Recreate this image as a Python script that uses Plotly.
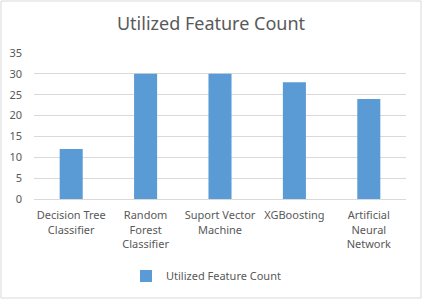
import plotly.graph_objects as go

categories = ["Decision Tree<br>Classifier", "Random<br>Forest<br>Classifier",
              "Suport Vector<br>Machine", "XGBoosting", "Artificial<br>Neural<br>Network"]
values = [12, 30, 30, 28, 24]
series_name = "Utilized Feature Count"
y_ticks = [0, 5, 10, 15, 20, 25, 30, 35]

W, H = 422, 299
ml, mr, mt, mb = 34, 16, 53, 100
pw, ph = W - ml - mr, H - mt - mb

fig = go.Figure()
fig.add_trace(go.Bar(x=categories, y=values, name=series_name,
                     marker=dict(color="#5B9BD5", line=dict(width=0))))

fig.update_layout(
    width=W, height=H,
    margin=dict(l=ml, r=mr, t=mt, b=mb, autoexpand=False),
    paper_bgcolor="white", plot_bgcolor="white",
    font=dict(family="Noto Sans, Open Sans, sans-serif", size=11, color="#595959"),
    title=dict(text="Utilized Feature Count", x=0.5, xanchor="center",
               y=1 - 24 / H, yanchor="middle",
               font=dict(size=18, color="#595959")),
    bargap=0.69,
    showlegend=True,
    legend=dict(orientation="h", x=0.5 - 14 / pw, xanchor="center", y=-(276 - 199) / ph,
                yanchor="middle", font=dict(size=11, color="#595959")),
    xaxis=dict(showgrid=False, showline=True, linecolor="#d9d9d9", ticks="",
               automargin=False, ticklabelstandoff=6,
               tickfont=dict(size=11, color="#595959"), fixedrange=True),
    yaxis=dict(range=[0, 35], tickvals=y_ticks, showgrid=True, gridcolor="#d9d9d9",
               zeroline=False, showline=False, ticks="", ticklen=0, automargin=False,
               ticklabelstandoff=11,
               tickfont=dict(size=11, color="#595959")),
)
fig.add_shape(type="rect", xref="paper", yref="paper",
              x0=-(ml - 1) / pw, x1=1 + (mr - 1) / pw,
              y0=-(mb - 1) / ph, y1=1 + (mt - 1) / ph,
              line=dict(color="#d9d9d9", width=1), fillcolor="rgba(0,0,0,0)", layer="below")

fig.write_html("out.html", config={"displayModeBar": False},
               post_script="document.body.style.margin='0';document.body.style.overflow='hidden';")
